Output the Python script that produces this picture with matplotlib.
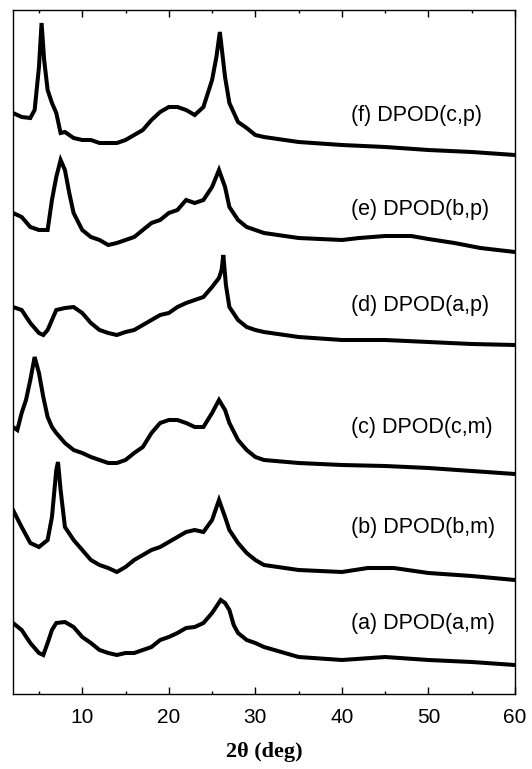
import numpy as np
import matplotlib
matplotlib.use('Agg')
import matplotlib.pyplot as plt
from matplotlib.ticker import MultipleLocator

# XRD patterns of the six DPOD samples
# 2theta (deg) and intensity (a.u., relative to the high-angle baseline)
tt_f = [2, 3, 4, 4.5, 5, 5.3, 5.6, 6, 6.5, 7, 7.5, 8, 9, 10, 11, 12, 13, 14, 15, 16, 17, 18,
        19, 20, 21, 22, 23, 24, 25, 25.5, 25.9, 26.5, 27, 28, 29, 30, 31, 35, 40, 45, 50, 55, 60]
int_f = [42, 38, 37, 45, 88, 132, 95, 65, 52, 42, 22, 23, 17, 15, 15, 12, 12, 12, 15, 20, 25, 35,
         43, 48, 48, 45, 40, 48, 75, 98, 123, 78, 52, 33, 27, 20, 18, 13, 10, 8, 5, 3, 0]

tt_e = [2, 3, 4, 5, 6, 6.5, 7, 7.5, 8, 8.5, 9, 10, 11, 12, 13, 14, 15, 16, 17, 18, 19, 20, 21,
        22, 23, 24, 25, 25.8, 26.5, 27, 28, 29, 30, 31, 35, 40, 42, 45, 48, 50, 53, 56, 60]
int_e = [39, 35, 25, 22, 22, 52, 75, 92, 82, 59, 39, 22, 15, 12, 7, 9, 12, 15, 22, 29, 32, 39, 42,
         52, 49, 52, 65, 82, 65, 45, 32, 25, 22, 19, 14, 12, 14, 16, 16, 13, 9, 4, 0]

tt_d = [2, 3, 4, 5, 5.5, 6, 7, 8, 9, 10, 11, 12, 13, 14, 15, 16, 17, 18, 19, 20, 21, 22, 23, 24,
        25, 25.8, 26.1, 26.3, 26.6, 27, 28, 29, 30, 31, 35, 40, 45, 50, 55, 60]
int_d = [38, 35, 22, 12, 10, 15, 35, 37, 38, 32, 22, 15, 12, 10, 13, 15, 20, 25, 30, 32, 38, 42,
         45, 48, 58, 67, 75, 90, 60, 38, 25, 18, 15, 13, 8, 5, 5, 3, 1, 0]

tt_c = [2, 2.5, 3, 3.5, 4, 4.5, 5, 5.5, 6, 6.5, 7, 8, 9, 10, 11, 12, 13, 14, 15, 16, 17, 18, 19,
        20, 21, 22, 23, 24, 25, 25.8, 26.5, 27, 28, 29, 30, 31, 35, 40, 45, 50, 55, 60]
int_c = [47, 44, 61, 74, 94, 117, 101, 77, 57, 47, 41, 31, 24, 21, 17, 14, 11, 11, 14, 21, 27, 41,
         51, 54, 54, 51, 47, 47, 61, 74, 64, 51, 34, 24, 17, 14, 11, 9, 8, 6, 3, 0]

tt_b = [2, 3, 4, 5, 6, 6.5, 7, 7.2, 7.5, 8, 9, 10, 11, 12, 13, 14, 15, 16, 17, 18, 19, 20, 21,
        22, 23, 24, 25, 25.8, 26.5, 27, 28, 29, 30, 31, 35, 40, 43, 46, 50, 55, 60]
int_b = [70, 53, 37, 33, 40, 63, 110, 118, 90, 53, 40, 30, 20, 15, 12, 8, 13, 20, 25, 30, 33, 38,
         43, 48, 50, 48, 60, 80, 63, 50, 37, 27, 20, 15, 10, 8, 12, 12, 7, 4, 0]

tt_a = [2, 3, 4, 5, 5.5, 6, 6.5, 7, 8, 9, 10, 11, 12, 13, 14, 15, 16, 17, 18, 19, 20, 21, 22, 23,
        24, 25, 26, 26.5, 27, 27.5, 28, 29, 30, 31, 35, 40, 45, 50, 55, 60]
int_a = [42, 35, 22, 12, 10, 22, 35, 42, 43, 38, 28, 22, 15, 12, 10, 12, 12, 15, 18, 25, 28, 32, 37,
         38, 42, 52, 65, 62, 55, 40, 32, 25, 22, 18, 8, 5, 8, 5, 3, 0]

two_theta = [tt_a, tt_b, tt_c, tt_d, tt_e, tt_f]
intensity = [int_a, int_b, int_c, int_d, int_e, int_f]
offsets = [29, 114, 220, 349, 442, 539]
labels = ['(a) DPOD(a,m)', '(b) DPOD(b,m)', '(c) DPOD(c,m)',
          '(d) DPOD(a,p)', '(e) DPOD(b,p)', '(f) DPOD(c,p)']
label_y = [71, 166, 267, 389, 484, 579]

fig = plt.figure(figsize=(5.32, 7.69), dpi=100)
ax = fig.add_axes([13 / 532, 75 / 769, 502 / 532, 684 / 769])

for x, y, off in zip(two_theta, intensity, offsets):
    ax.plot(x, np.array(y) + off, color='black', lw=2.9, solid_joinstyle='miter')

for lab, ly in zip(labels, label_y):
    ax.text(41, ly, lab, fontsize=15.5, family='Liberation Sans', va='center', ha='left')

ax.set_xlim(2, 60)
ax.set_ylim(0, 684)
ax.set_yticks([])
ax.xaxis.set_major_locator(MultipleLocator(10))
ax.xaxis.set_minor_locator(MultipleLocator(5))
ax.tick_params(axis='x', which='both', direction='in', top=True)
ax.tick_params(axis='x', which='major', length=5, width=1, labelsize=15, pad=10)
ax.tick_params(axis='x', which='minor', length=2.5, width=1)
ax.set_xticks([10, 20, 30, 40, 50, 60])
for t in ax.get_xticklabels():
    t.set_family('Liberation Sans')
for s in ax.spines.values():
    s.set_linewidth(1)

ax.set_xlabel('2θ (deg)', fontsize=16, family='Liberation Serif', fontweight='bold')
ax.xaxis.label.set_va('center')
ax.xaxis.set_label_coords(0.5, -0.085)

fig.savefig('out.png', dpi=100)
